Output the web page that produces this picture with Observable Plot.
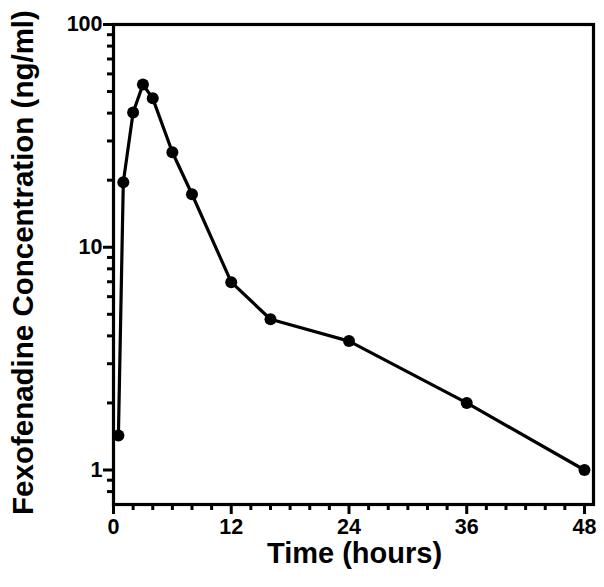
<!DOCTYPE html>
<html>
<head>
<meta charset="utf-8">
<script src="https://cdn.jsdelivr.net/npm/d3@7"></script>
<script src="https://cdn.jsdelivr.net/npm/@observablehq/plot@0.6"></script>
<style>
  html, body { margin: 0; padding: 0; background: #fff; }
  #chart { width: 604px; height: 587px; }
</style>
</head>
<body>
<div id="chart"></div>
<script>
// Data (time in hours, concentration in ng/ml)
const times = [0.5, 1, 2, 3, 4, 6, 8, 12, 16, 24, 36, 48];
const conc = [1.43, 19.6, 40.3, 53.8, 46.6, 26.7, 17.3, 6.97, 4.75, 3.79, 2.0, 1.0];

// Axis ticks
const xTicks = [0, 12, 24, 36, 48];
const xMinorTicks = [2, 4, 6, 8, 10, 14, 16, 18, 20, 22, 26, 28, 30, 32, 34, 38, 40, 42, 44, 46];
const yTicks = [1, 10, 100];
const yTickLabels = ["1", "10", "100"];
const yMinorTicks = [0.8, 0.9, 2, 3, 4, 5, 6, 7, 8, 9, 20, 30, 40, 50, 60, 70, 80, 90];

const xLabel = "Time (hours)";
const yLabel = "Fexofenadine Concentration (ng/ml)";

const data = times.map((t, i) => ({t, c: conc[i]}));

const chart = Plot.plot({
  width: 604,
  height: 587,
  marginLeft: 113,
  marginRight: 11,
  marginTop: 24,
  marginBottom: 83,
  style: {fontFamily: "'Liberation Sans', Arial, sans-serif", fontWeight: "bold", color: "#000", background: "#fff"},
  x: {domain: [0, 48.92]},
  y: {type: "log", domain: [0.7, 100]},
  marks: [
    Plot.frame({stroke: "#000", strokeWidth: 3.2}),
    Plot.axisX({ticks: xMinorTicks, tickSize: 6, strokeWidth: 3, text: null, label: null}),
    Plot.axisX({ticks: xTicks, tickFormat: d => String(d), tickSize: 10, strokeWidth: 3, tickPadding: 4, fontSize: 21.5, fontWeight: "bold", label: null}),
    Plot.axisY({ticks: yMinorTicks, tickSize: 6, strokeWidth: 3, text: null, label: null}),
    Plot.axisY({ticks: yTicks, tickFormat: d => yTickLabels[yTicks.indexOf(d)], tickSize: 10, strokeWidth: 3, tickPadding: 1, fontSize: 21.5, fontWeight: "bold", label: null}),
    Plot.line(data, {x: "t", y: "c", stroke: "#000", strokeWidth: 3.2}),
    Plot.dot(data, {x: "t", y: "c", r: 6, fill: "#000", stroke: "none"}),
    Plot.text([xLabel], {frameAnchor: "bottom", textAnchor: "middle", dx: 1, dy: 58, fontSize: 29, fontWeight: "bold", fill: "#000"}),
    Plot.text([yLabel], {frameAnchor: "left", textAnchor: "middle", rotate: -90, dx: -90, dy: -2, fontSize: 29.5, fontWeight: "bold", fill: "#000"})
  ]
});
document.getElementById("chart").appendChild(chart);
</script>
</body>
</html>
